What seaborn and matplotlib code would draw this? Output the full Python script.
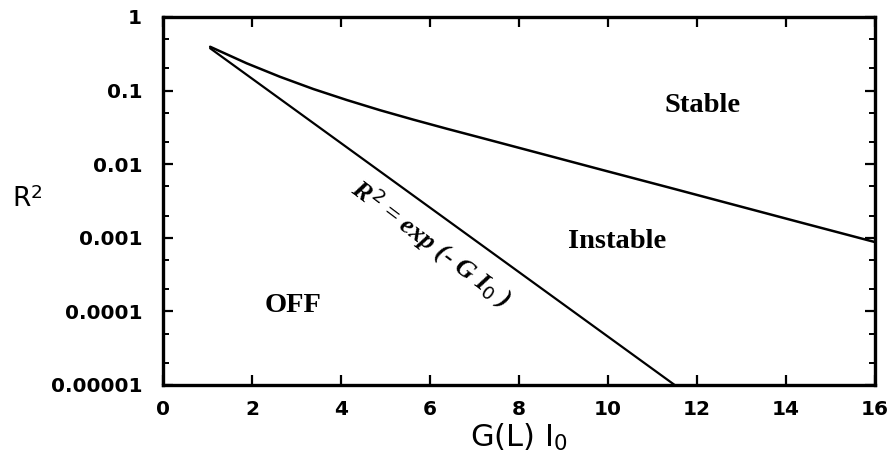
import numpy as np
import pandas as pd
import matplotlib.pyplot as plt
import seaborn as sns
from matplotlib.ticker import LogLocator, NullFormatter

# upper boundary (stable / instable)
g_upper = [1.06, 1.88, 2.63, 3.38, 4.13, 4.88, 5.62, 6.38, 7.12, 8.4,
           9.89, 11.39, 12.89, 14.39, 16.0]
r2_upper = [0.394, 0.235, 0.154, 0.105, 0.0745, 0.0541, 0.0404, 0.0303, 0.0231,
            0.0144, 0.0083, 0.00479, 0.00275, 0.00158, 0.000875]

# lower boundary R^2 = exp(-G I0), straight on the log axis
g_off = [1.06, 11.5]
r2_off = [0.376, 1e-5]

x_ticks = [0, 2, 4, 6, 8, 10, 12, 14, 16]
y_ticks = [1e-5, 1e-4, 1e-3, 1e-2, 1e-1, 1]
y_ticklabels = ["0.00001", "0.0001", "0.001", "0.01", "0.1", "1"]

sns.set_style("ticks")
plt.rcParams["font.family"] = ["DejaVu Sans"]
plt.rcParams["text.color"] = "black"
plt.rcParams["axes.labelcolor"] = "black"
plt.rcParams["mathtext.fontset"] = "custom"
plt.rcParams["mathtext.rm"] = "DejaVu Sans"
plt.rcParams["mathtext.it"] = "Liberation Serif:italic:bold"

fig = plt.figure(figsize=(8.92, 4.58), dpi=100)
ax = fig.add_axes([0.1827, 0.1594, 0.7982, 0.8035])

upper_df = pd.DataFrame({"g": g_upper, "r2": r2_upper})
off_df = pd.DataFrame({"g": g_off, "r2": r2_off})
sns.lineplot(data=upper_df, x="g", y="r2", color="black", lw=1.8, sort=False, ax=ax)
sns.lineplot(data=off_df, x="g", y="r2", color="black", lw=1.6, sort=False, ax=ax)

ax.set_yscale("log")
ax.set_xlim(0, 16)
ax.set_ylim(1e-5, 1)
ax.set_xticks(x_ticks)
ax.set_xticklabels([str(t) for t in x_ticks], fontweight="bold")
ax.set_yticks(y_ticks)
ax.set_yticklabels(y_ticklabels, fontweight="bold")
ax.yaxis.set_minor_locator(LogLocator(base=10, subs=(2.0, 5.0)))
ax.yaxis.set_minor_formatter(NullFormatter())

for side in ["left", "right", "top", "bottom"]:
    ax.spines[side].set_linewidth(2.4)
    ax.spines[side].set_color("black")

ax.tick_params(axis="both", which="major", direction="in", length=7, width=1.6,
               top=True, right=True, labelsize=14.5, colors="black")
ax.tick_params(axis="y", which="major", pad=15)
ax.tick_params(axis="x", which="major", pad=11)
ax.tick_params(axis="y", which="minor", direction="in", length=4, width=1.4,
               left=True, right=True, colors="black")

ax.set_xlabel("G(L) I$_0$", fontsize=22)
ax.xaxis.set_label_coords(0.5, -0.10)
ax.xaxis.label.set_va("top")
ax.set_ylabel("R$^2$", fontsize=19, rotation=0, ha="center", va="center")
ax.yaxis.set_label_coords(-0.19, 0.503)

region_font = dict(family="Liberation Serif", fontweight="bold", fontsize=20.5,
                   ha="center", va="baseline", color="black")
ax.text(12.13, 0.051, "Stable", **region_font)
ax.text(10.2, 7.3e-4, "Instable", **region_font)
ax.text(2.93, 9.8e-5, "OFF", **region_font)

ax.text(6.04, 8.3e-4, r"$R^{\mathit{2}}$ = exp (- G $I_{\mathit{0}}$ )",
        family="Liberation Serif", fontstyle="italic", fontweight="bold",
        fontsize=19, rotation=-37, rotation_mode="anchor",
        ha="center", va="center", color="black")

fig.savefig("out.png", dpi=100)
